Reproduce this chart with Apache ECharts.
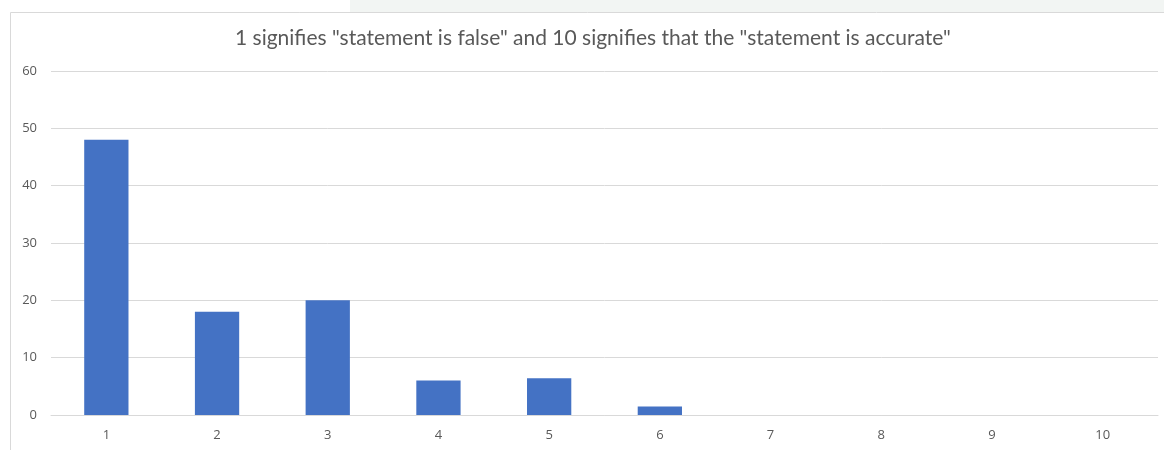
<!DOCTYPE html>
<html>
<head>
<meta charset="utf-8">
<script src="https://cdn.jsdelivr.net/npm/echarts@6/dist/echarts.min.js"></script>
<style>
  html, body { margin: 0; padding: 0; background: #fff; }
  #main { width: 1164px; height: 450px; }
</style>
</head>
<body>
<div id="main"></div>
<script>
// scores 1..10 and how many answered each
var categories = ["1", "2", "3", "4", "5", "6", "7", "8", "9", "10"];
var counts = [48, 18, 20, 6, 6.4, 1.5, 0, 0, 0, 0];
var yTicks = [0, 10, 20, 30, 40, 50, 60];

var chart = echarts.init(document.getElementById("main"));

var option = {
  animation: false,
  textStyle: { fontFamily: "Open Sans" },
  graphic: [
    // light band above the frame, like the screenshot edge
    {
      type: "rect",
      shape: { x: 350, y: 0, width: 814, height: 12 },
      style: { fill: "#f2f5f3" },
      silent: true
    },
    // chart frame
    {
      type: "rect",
      shape: { x: 10.5, y: 12.5, width: 1170, height: 460 },
      style: { fill: "none", stroke: "#d9d9d9", lineWidth: 1 },
      silent: true
    }
  ],
  title: {
    text: '1 signifies "statement is false" and 10 signifies that the "statement is accurate"',
    left: 230,
    top: 23,
    textStyle: {
      fontFamily: "Lato",
      fontSize: 21,
      fontWeight: "normal",
      color: "#595959"
    }
  },
  grid: {
    left: 51,
    right: 6,
    top: 71,
    bottom: 35,
    containLabel: false
  },
  xAxis: {
    type: "category",
    data: categories,
    axisLine: { lineStyle: { color: "#d9d9d9" } },
    axisTick: { show: false },
    axisLabel: { color: "#595959", fontSize: 13, margin: 14 }
  },
  yAxis: {
    type: "value",
    min: yTicks[0],
    max: yTicks[yTicks.length - 1],
    interval: 10,
    axisLine: { show: false },
    axisTick: { show: false },
    axisLabel: { color: "#595959", fontSize: 13, margin: 14 },
    splitLine: { lineStyle: { color: "#d9d9d9" } }
  },
  series: [
    {
      type: "bar",
      data: counts,
      barWidth: "40%",
      itemStyle: { color: "#4472c4" }
    }
  ]
};

chart.setOption(option);
</script>
</body>
</html>
